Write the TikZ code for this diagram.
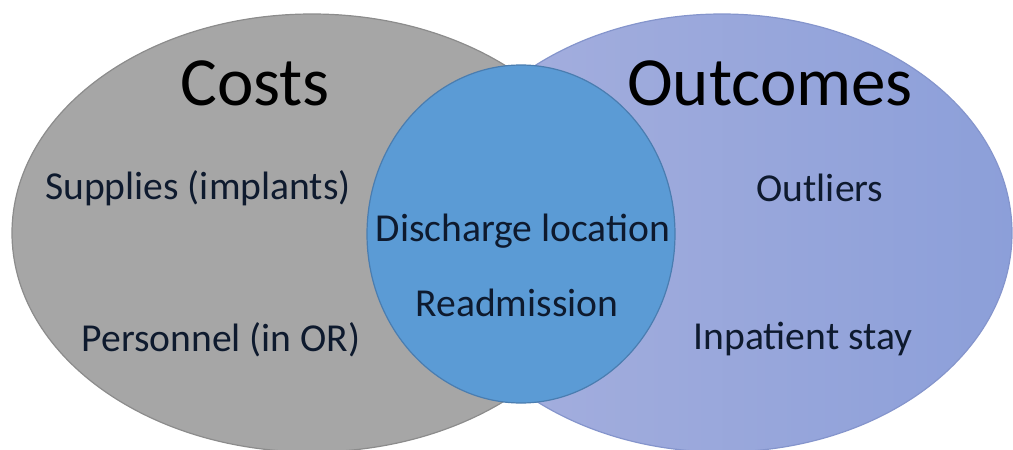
\documentclass[tikz,border=0pt]{standalone}
\usepackage{fontspec}
\setmainfont{Carlito}
\usetikzlibrary{shapes.geometric}

\definecolor{costgray}{HTML}{A6A6A6}
\definecolor{costedge}{HTML}{8C8C8C}
\definecolor{outleft}{HTML}{A7B0DE}
\definecolor{outright}{HTML}{8C9FD9}
\definecolor{outedge}{HTML}{8595CC}
\definecolor{bothblue}{HTML}{5B9BD5}
\definecolor{bothedge}{HTML}{4A7DB0}
\definecolor{inktext}{HTML}{0E1A2E}

\begin{document}
\begin{tikzpicture}[
    x=0.5pt, y=-0.5pt,
    set/.style = {ellipse, inner sep=0pt, outer sep=0pt, line width=0.6pt},
    title/.style = {font=\fontsize{34.5}{40}\selectfont, text=black},
    item/.style = {font=\fontsize{19.8}{23}\selectfont, text=inktext}
  ]
  \useasboundingbox (0,0) rectangle (1013,450);

  \node[set, fill=costgray, draw=costedge, minimum width=300pt, minimum height=219pt] (costs set) at (312,233) {};
  \node[set, left color=outleft, right color=outright, draw=outedge, minimum width=290pt, minimum height=219pt] (outcomes set) at (722,233) {};
  \node[set, fill=bothblue, draw=bothedge, minimum width=154pt, minimum height=169pt] (both set) at (521,234) {};

  \node[title] (costs) at (255,83) {Costs};
  \node[title] (outcomes) at (770,83) {Outcomes};

  \node[item] (supplies) at (198,188) {Supplies (implants)};
  \node[item] (personnel) at (221,340) {Personnel (in OR)};
  \node[item] (discharge) at (523,231) {Discharge location};
  \node[item] (readmission) at (517,303) {Readmission};
  \node[item] (outliers) at (820,188) {Outliers};
  \node[item] (inpatient) at (803,339) {Inpatient stay};
\end{tikzpicture}
\end{document}
